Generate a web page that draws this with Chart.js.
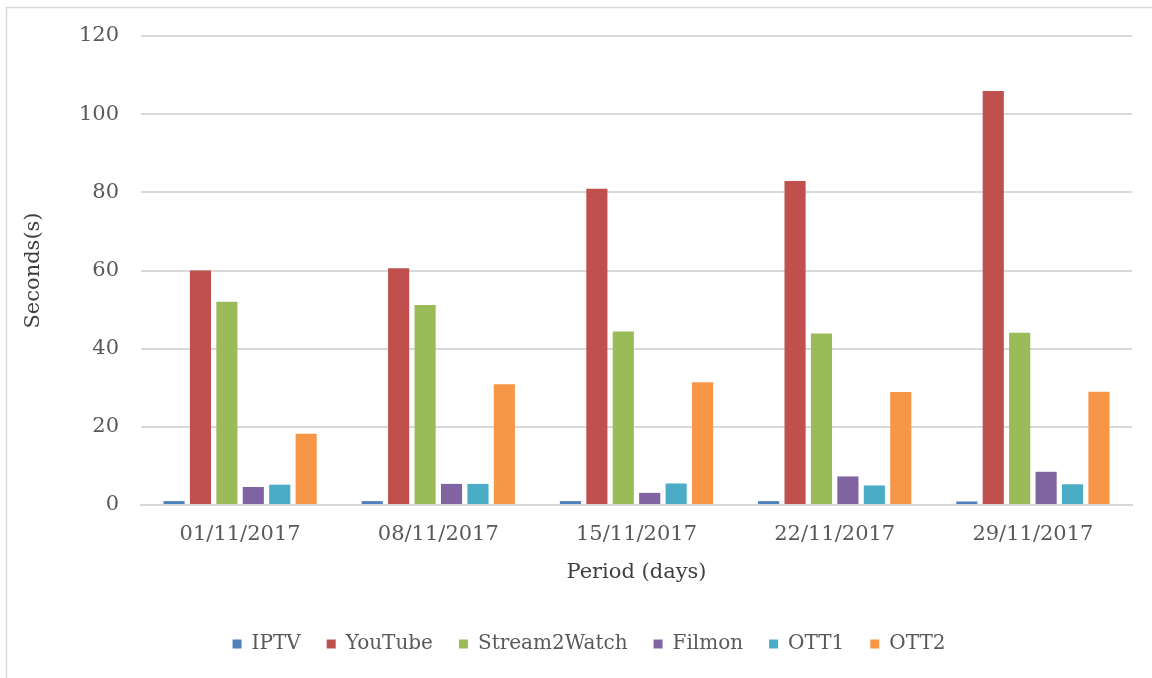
<!DOCTYPE html>
<html>
<head>
<meta charset="utf-8">
<script src="https://cdn.jsdelivr.net/npm/chart.js@4"></script>
<style>
  html, body { margin: 0; padding: 0; background: #fff; overflow: hidden; }
  #wrap { position: absolute; left: 0; top: 0; width: 1152px; height: 678px; }
</style>
</head>
<body>
<div id="wrap"><canvas id="chart" width="1152" height="678"></canvas></div>
<script>
// values
const periods = ['01/11/2017', '08/11/2017', '15/11/2017', '22/11/2017', '29/11/2017'];
const iptv = [1, 1, 1, 1, 0.9];
const youtube = [60, 60.6, 80.9, 82.9, 105.9];
const stream2watch = [52, 51.2, 44.4, 43.9, 44.1];
const filmon = [4.6, 5.4, 3.1, 7.3, 8.5];
const ott1 = [5.2, 5.4, 5.5, 5.0, 5.3];
const ott2 = [18.2, 30.9, 31.4, 28.9, 29.0];

const seriesNames = ['IPTV', 'YouTube', 'Stream2Watch', 'Filmon', 'OTT1', 'OTT2'];
const seriesData = [iptv, youtube, stream2watch, filmon, ott1, ott2];
const colors = ['#4F81BD', '#C0504D', '#9BBB59', '#8064A2', '#4BACC6', '#F79646'];

const FONT = "'DejaVu Serif', 'Liberation Serif', serif";
const TEXT = '#595959';

// light frame round the whole chart, as in the original
const framePlugin = {
  id: 'frame',
  beforeDraw(chart) {
    const ctx = chart.ctx;
    ctx.save();
    ctx.fillStyle = '#fff';
    ctx.fillRect(0, 0, chart.width, chart.height);
    ctx.strokeStyle = '#d9d9d9';
    ctx.lineWidth = 1.5;
    ctx.strokeRect(6.5, 7.5, chart.width + 10, chart.height + 10);
    ctx.restore();
  }
};

new Chart(document.getElementById('chart'), {
  type: 'bar',
  data: {
    labels: periods,
    datasets: seriesNames.map((name, i) => ({
      label: name,
      data: seriesData[i],
      backgroundColor: colors[i],
      borderWidth: 0,
      barPercentage: 0.8,
      categoryPercentage: 0.8
    }))
  },
  options: {
    responsive: false,
    animation: false,
    // left padding pushes the centred legend to where the original has it
    layout: { padding: { top: 36, right: 20, left: 46, bottom: 14 } },
    plugins: {
      legend: {
        position: 'bottom',
        labels: {
          boxWidth: 9,
          boxHeight: 9,
          padding: 26,
          color: TEXT,
          font: { family: FONT, size: 20 }
        }
      },
      tooltip: { enabled: false }
    },
    scales: {
      x: {
        grid: { display: false, drawTicks: false },
        border: { color: '#d9d9d9', width: 2 },
        ticks: { color: TEXT, font: { family: FONT, size: 21 }, padding: 17 },
        title: {
          display: true,
          text: 'Period (days)',
          color: '#404040',
          font: { family: FONT, size: 21 },
          padding: { top: 8, bottom: 23 }
        },
        afterFit(scale) { scale.height = 103; }
      },
      y: {
        min: 0,
        max: 120,
        ticks: { stepSize: 20, color: TEXT, font: { family: FONT, size: 21 }, padding: 22 },
        grid: { color: '#d9d9d9', lineWidth: 2, drawTicks: false },
        border: { display: false },
        title: {
          display: true,
          text: 'Seconds(s)',
          color: '#404040',
          font: { family: FONT, size: 21 },
          padding: { top: -25, bottom: 0 }
        },
        afterFit(scale) { scale.width = 95; }
      }
    }
  },
  plugins: [framePlugin]
});
</script>
</body>
</html>
